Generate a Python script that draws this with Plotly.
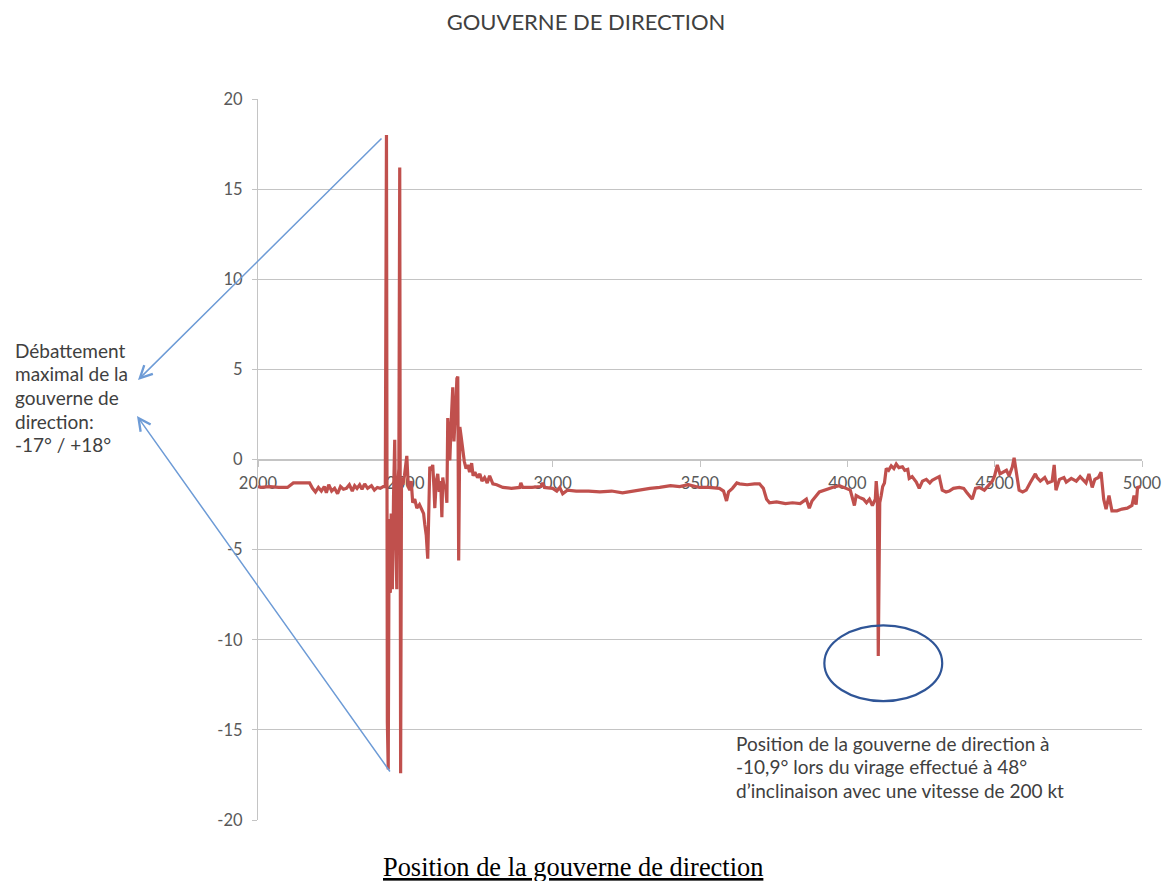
import plotly.graph_objects as go

# Rudder deflection record (deg) against time index
time_idx = [
    2000, 2010, 2040, 2070, 2100, 2110, 2120, 2150, 2175, 2185, 2195, 2205, 2215, 2225, 2232,
    2240, 2250, 2260, 2270, 2280, 2290, 2300, 2310, 2320, 2328, 2336, 2345, 2353, 2362, 2372,
    2385, 2395, 2405, 2415, 2425, 2432,
    2436, 2439, 2442, 2445, 2449, 2452, 2456, 2460, 2464, 2467, 2471, 2474, 2478, 2481, 2484,
    2487, 2492, 2497, 2505, 2510, 2515, 2520, 2525, 2532, 2539, 2548, 2556, 2562, 2566, 2571,
    2576, 2580, 2583, 2588, 2593, 2597, 2600, 2605, 2610, 2615, 2620, 2624, 2627, 2632, 2636,
    2641, 2644, 2648, 2651, 2656, 2661, 2665, 2668, 2672, 2675, 2678, 2681, 2685, 2690, 2695,
    2700, 2706, 2712, 2718, 2725, 2730, 2736, 2745, 2753, 2760, 2769, 2778, 2786, 2797, 2810,
    2831, 2860, 2888, 2892, 2898, 2930, 2960, 2966, 2972, 3000, 3014, 3024, 3034, 3050, 3080,
    3122, 3160, 3200, 3237, 3270, 3300, 3330, 3363, 3400, 3431, 3460, 3498, 3530, 3566, 3580,
    3590, 3597, 3610, 3625, 3634, 3660, 3685, 3702, 3715, 3726, 3736, 3760, 3790, 3814, 3840,
    3848, 3861, 3871, 3880, 3905, 3929, 3949, 3973, 3997, 4010, 4024, 4030, 4041, 4055, 4065,
    4075, 4085, 4095, 4098, 4102, 4105, 4110, 4115, 4120, 4126, 4132, 4140, 4149, 4158, 4166,
    4175, 4187, 4195, 4205, 4210, 4220, 4234, 4244, 4255, 4268, 4280, 4288, 4300, 4312, 4322,
    4335, 4346, 4360, 4380, 4395, 4404, 4415, 4424, 4435, 4448, 4465, 4480, 4492, 4500, 4509,
    4518, 4530, 4540, 4549, 4560, 4566, 4572, 4583, 4595, 4607, 4620, 4627, 4638, 4644, 4655,
    4670, 4680, 4695, 4702, 4708, 4720, 4735, 4743, 4760, 4777, 4790, 4810, 4820, 4831, 4840,
    4852, 4861, 4870, 4878, 4888, 4898, 4915, 4932, 4950, 4966, 4973, 4980, 4985, 4995,
]
rudder_deg = [
    -1.5, -1.55, -1.5, -1.55, -1.55, -1.45, -1.3, -1.3, -1.3, -1.6, -1.8, -1.55, -1.75, -1.5, -1.85,
    -1.4, -1.75, -1.6, -1.9, -1.5, -1.65, -1.6, -1.4, -1.75, -1.45, -1.6, -1.4, -1.65, -1.35, -1.6,
    -1.45, -1.7, -1.55, -1.6, -1.5, -1.5,
    18.0, -14.6, -17.2, -3.3, -7.4, -3.0, -7.2, -2.0, 1.1, -3.5, -7.2, -1.5, -0.5, 16.2, -17.4,
    -1.0, -1.4, -0.9, 0.2, -1.5, -1.7, -1.2, -2.4, -2.2, -2.7, -2.5, -2.8, -3.0, -3.6, -4.2,
    -5.5, -2.0, -0.4, -0.6, -0.3, -1.5, -2.7, -1.2, -0.8, -1.8, -1.2, -3.2, -1.0, -1.6, -1.4,
    -2.4, 2.3, 1.0, -0.05, 2.2, 4.0, 1.0, 2.5, 3.3, 4.5, 4.6, -5.6, 1.8, 1.2, 0.5,
    -0.1, -0.5, -0.3, -0.7, -0.2, -0.9, -0.7, -1.0, -0.8, -1.2, -1.0, -1.3, -0.9, -1.35, -1.4,
    -1.55, -1.6, -1.55, -1.3, -1.55, -1.55, -1.5, -1.3, -1.55, -1.6, -1.75, -1.55, -1.9, -1.7, -1.75,
    -1.75, -1.8, -1.75, -1.85, -1.75, -1.65, -1.6, -1.55, -1.45, -1.5, -1.4, -1.55, -1.55, -1.6, -1.75,
    -2.3, -1.8, -1.6, -1.3, -1.35, -1.4, -1.35, -1.35, -1.6, -2.2, -2.4, -2.35, -2.45, -2.4, -2.45,
    -2.35, -2.2, -2.7, -2.3, -1.8, -1.65, -1.55, -1.45, -1.6, -1.7, -2.55, -2.0, -2.1, -2.2, -2.4,
    -2.2, -2.55, -2.2, -1.2, -2.0, -10.9, -2.4, -2.0, -1.5, -1.3, -0.5, -0.6, -0.35, -0.5, -0.25,
    -0.45, -0.4, -0.6, -0.55, -1.05, -0.95, -1.25, -1.6, -1.2, -1.1, -1.3, -1.15, -1.05, -0.95, -1.7,
    -1.8, -1.75, -1.6, -1.55, -1.6, -1.8, -2.0, -2.2, -1.6, -1.55, -1.7, -1.4, -1.2, -0.9, -0.3,
    -0.8, -0.7, -0.6, -0.9, -0.4, 0.1, -0.6, -1.7, -1.8, -1.7, -1.3, -1.1, -0.8, -1.0, -1.2,
    -1.0, -1.3, -1.2, -0.3, -1.7, -1.1, -1.0, -1.25, -1.05, -1.2, -0.95, -1.3, -0.8, -1.55, -1.1,
    -1.0, -0.7, -2.2, -2.75, -2.0, -2.85, -2.85, -2.75, -2.7, -2.55, -2.0, -2.5, -1.55, -1.5,
]

x_ticks = [2000, 2500, 3000, 3500, 4000, 4500, 5000]
y_ticks = [-20, -15, -10, -5, 0, 5, 10, 15, 20]
y_tick_labels = ["-20", "-15", "-10", "-5", "0", "5", "10", "15", "20"]

left_note = ["Débattement", "maximal de la", "gouverne de", "direction:", "-17° / +18°"]
right_note = [
    "Position de la gouverne de direction à",
    "-10,9° lors du virage effectué à 48°",
    "d’inclinaison avec une vitesse de 200 kt",
]

W, H = 1162, 881
ML, MR, MT, MB = 258, 20, 99, 61
PW, PH = W - ML - MR, H - MT - MB


def px_x(px):
    return (px - ML) / PW


def px_y(py):
    return (H - MB - py) / PH


TEXT_FONT = "Lato"
GRID = "#c4c4c4"
ARROW = "#6d9bd6"
NOTE = "#404040"

fig = go.Figure()
fig.add_trace(go.Scatter(
    x=time_idx, y=rudder_deg, mode="lines",
    line=dict(color="#c0504d", width=3.2),
    showlegend=False, hoverinfo="x+y",
))

fig.update_layout(
    width=W, height=H,
    margin=dict(l=ML, r=MR, t=MT, b=MB, autoexpand=False),
    paper_bgcolor="white", plot_bgcolor="white",
    font=dict(family=TEXT_FONT, color="#595959", size=16),
    title=dict(
        text="GOUVERNE DE DIRECTION",
        font=dict(family=TEXT_FONT, size=22, color=NOTE),
        xref="container", yref="container",
        x=586 / W, y=1 - 22 / H, xanchor="center", yanchor="middle",
    ),
    xaxis=dict(
        range=[2000, 5000], tickvals=x_ticks, ticktext=[str(v) for v in x_ticks],
        anchor="free", position=0.5, layer="below traces",
        showline=True, linecolor=GRID, linewidth=1.2,
        ticks="outside", ticklen=6, tickcolor=GRID, tickwidth=1.2,
        showgrid=False, zeroline=False, ticklabelstandoff=3,
        tickfont=dict(family=TEXT_FONT, size=16.5, color="#595959"),
    ),
    yaxis=dict(
        range=[-20, 20], tickvals=y_ticks, ticktext=y_tick_labels,
        showline=True, linecolor=GRID, linewidth=1.2,
        ticks="outside", ticklen=5, tickcolor=GRID, tickwidth=1.2,
        showgrid=True, gridcolor=GRID, gridwidth=1.2, zeroline=False,
        ticklabelstandoff=6,
        tickfont=dict(family=TEXT_FONT, size=16.5, color="#595959"),
    ),
)

# Callout around the rudder dip during the turn
fig.add_shape(type="circle", xref="x", yref="y",
              x0=3922, x1=4322, y0=-13.4, y1=-9.2,
              line=dict(color="#2f5597", width=2.2))

# Arrows from the text block to the two extreme deflections
fig.add_annotation(xref="paper", yref="paper", x=px_x(138), y=px_y(380),
                   ax=245, ay=-243, axref="pixel", ayref="pixel", text="",
                   showarrow=True, arrowhead=5, arrowsize=1.6, arrowwidth=1.5,
                   arrowcolor=ARROW)
fig.add_annotation(xref="paper", yref="paper", x=px_x(137), y=px_y(416),
                   ax=254, ay=357, axref="pixel", ayref="pixel", text="",
                   showarrow=True, arrowhead=5, arrowsize=1.6, arrowwidth=1.5,
                   arrowcolor=ARROW)

for i, line in enumerate(left_note):
    fig.add_annotation(
        xref="paper", yref="paper", x=px_x(13), y=px_y(350 + 23.7 * i),
        xanchor="left", yanchor="middle", showarrow=False, text=line,
        font=dict(family=TEXT_FONT, size=19, color=NOTE),
    )

for i, line in enumerate(right_note):
    fig.add_annotation(
        xref="paper", yref="paper", x=px_x(734), y=px_y(743 + 23.5 * i),
        xanchor="left", yanchor="middle", showarrow=False, text=line,
        font=dict(family=TEXT_FONT, size=19, color=NOTE),
    )

fig.add_annotation(
    xref="paper", yref="paper", x=px_x(573), y=px_y(867), xanchor="center", yanchor="middle",
    showarrow=False, text="<u>Position de la gouverne de direction</u>",
    font=dict(family="Liberation Serif", size=26.4, color="#000000"),
)

fig.write_html("out.html")
